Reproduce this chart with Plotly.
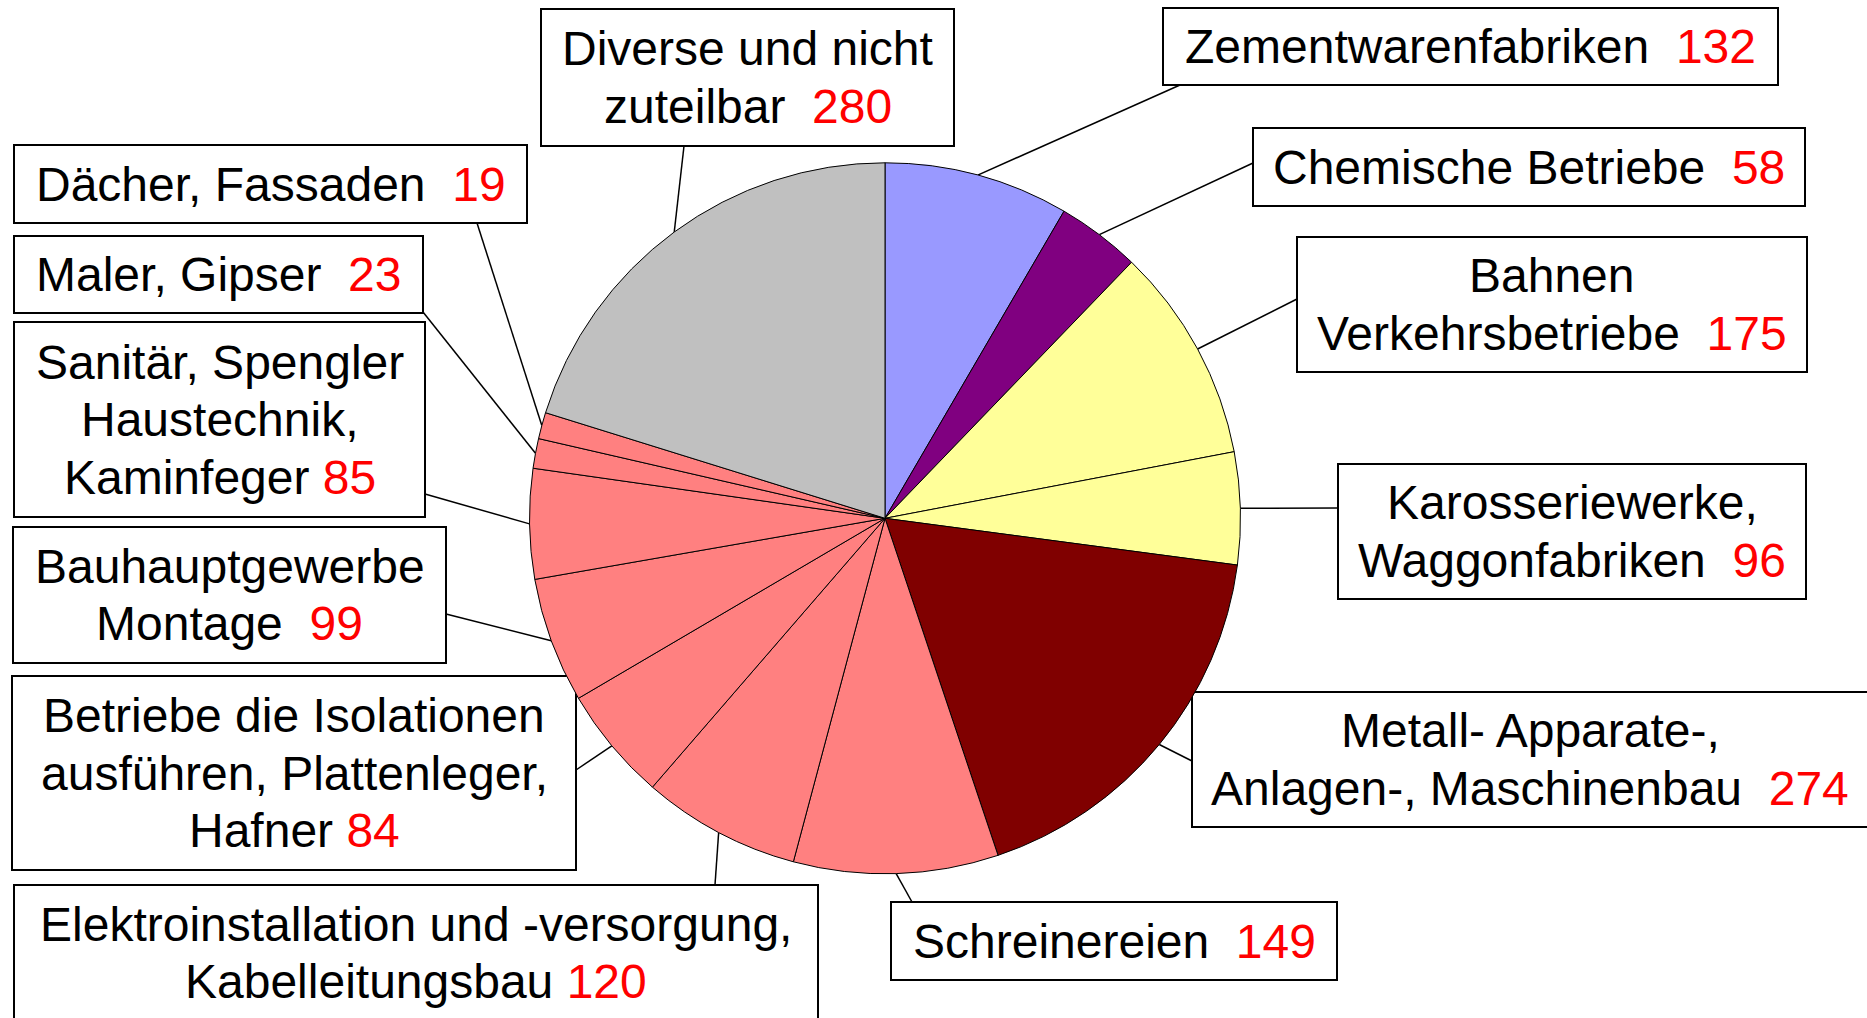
import math
import plotly.graph_objects as go

# slices in clockwise order, starting at 12 o'clock
categories = [
    "Zementwarenfabriken", "Chemische Betriebe", "Bahnen Verkehrsbetriebe",
    "Karosseriewerke, Waggonfabriken", "Metall- Apparate-, Anlagen-, Maschinenbau",
    "Schreinereien", "Elektroinstallation und -versorgung, Kabelleitungsbau",
    "Betriebe die Isolationen ausführen, Plattenleger, Hafner",
    "Bauhauptgewerbe Montage", "Sanitär, Spengler Haustechnik, Kaminfeger",
    "Maler, Gipser", "Dächer, Fassaden", "Diverse und nicht zuteilbar",
]
# numbers printed in the label boxes
counts = [132, 58, 175, 96, 274, 149, 120, 84, 99, 85, 23, 19, 280]
shares = [8.4, 3.8, 9.8, 5.1, 17.75, 9.3, 7.2, 5.2, 5.7, 5.0, 1.35, 1.2, 20.2]
colors = ["#9999FF", "#800080", "#FFFF99", "#FFFF99", "#800000", "#FF8080", "#FF8080",
          "#FF8080", "#FF8080", "#FF8080", "#FF8080", "#FF8080", "#C0C0C0"]

# label text broken into lines, the count goes at the end of the last line
label_lines = [
    ["Zementwarenfabriken"],
    ["Chemische Betriebe"],
    ["Bahnen", "Verkehrsbetriebe"],
    ["Karosseriewerke,", "Waggonfabriken"],
    ["Metall- Apparate-,", "Anlagen-, Maschinenbau"],
    ["Schreinereien"],
    ["Elektroinstallation und -versorgung,", "Kabelleitungsbau"],
    ["Betriebe die Isolationen", "ausführen, Plattenleger,", "Hafner"],
    ["Bauhauptgewerbe", "Montage"],
    ["Sanitär, Spengler", "Haustechnik,", "Kaminfeger"],
    ["Maler, Gipser"],
    ["Dächer, Fassaden"],
    ["Diverse und nicht", "zuteilbar"],
]
gaps = [2, 2, 2, 2, 2, 2, 1, 1, 2, 1, 2, 2, 2]

# layout (pixels): label boxes x0, y0, x1, y1 and the point where the leader leaves the box
boxes = [
    (1163, 8, 1778, 85), (1253, 128, 1805, 206), (1297, 237, 1807, 372),
    (1338, 464, 1806, 599), (1192, 692, 1868, 827), (891, 902, 1337, 980),
    (14, 885, 818, 1021), (12, 676, 576, 870), (13, 527, 446, 663),
    (14, 322, 425, 517), (14, 236, 423, 313), (14, 145, 527, 223), (541, 9, 954, 146),
]
anchors = [
    (1180, 85), (1253, 163), (1297, 299), (1338, 508), (1192, 761), (912, 902),
    (715, 885), (576, 770), (446, 614), (425, 494), (423, 312), (477, 223), (684, 146),
]

W, H = 1867, 1018
cx, cy, r = 885, 518.3, 355.5
line_gap = 57.5
font = "Liberation Sans, Arial, sans-serif"

fig = go.Figure()
fig.add_trace(go.Pie(
    values=shares, labels=categories, sort=False, direction="clockwise", rotation=0,
    marker=dict(colors=colors, line=dict(color="black", width=1)),
    textinfo="none", hoverinfo="label", showlegend=False,
    domain=dict(x=[(cx - r) / W, (cx + r) / W], y=[1 - (cy + r) / H, 1 - (cy - r) / H]),
))

shapes = []
annotations = []
total = sum(shares)
start = 0.0
for i, share in enumerate(shares):
    mid = (start + share / 2) / total * 2 * math.pi
    start += share
    px_, py_ = cx + r * math.sin(mid), cy - r * math.cos(mid)
    ax_, ay_ = anchors[i]
    shapes.append(dict(type="line", xref="x", yref="y", x0=ax_, y0=ay_, x1=px_, y1=py_,
                       line=dict(color="black", width=1.5), layer="below"))
    x0, y0, x1, y1 = boxes[i]
    shapes.append(dict(type="rect", xref="x", yref="y", x0=x0, y0=y0, x1=x1, y1=y1,
                       line=dict(color="black", width=2), fillcolor="white", layer="below"))
    lines = list(label_lines[i])
    lines[-1] = lines[-1] + "\u00a0" * gaps[i] + '<span style="color:#FF0000">%d</span>' % counts[i]
    n = len(lines)
    bx, by = (x0 + x1) / 2, (y0 + y1) / 2
    for k, txt in enumerate(lines):
        annotations.append(dict(
            text=txt, xref="x", yref="y", x=bx, y=by + (k - (n - 1) / 2) * line_gap,
            xanchor="center", yanchor="middle", showarrow=False, borderpad=0,
            font=dict(family=font, size=48, color="black"),
        ))

fig.update_layout(
    width=W, height=H, margin=dict(l=0, r=0, t=0, b=0),
    paper_bgcolor="white", plot_bgcolor="white",
    xaxis=dict(range=[0, W], visible=False, fixedrange=True),
    yaxis=dict(range=[H, 0], visible=False, fixedrange=True),
    shapes=shapes, annotations=annotations,
)

# drop the default 8px page margin so the figure sits at the window corner
fig.write_html("out.html", config={"displayModeBar": False},
               post_script="document.body.style.margin='0';")
